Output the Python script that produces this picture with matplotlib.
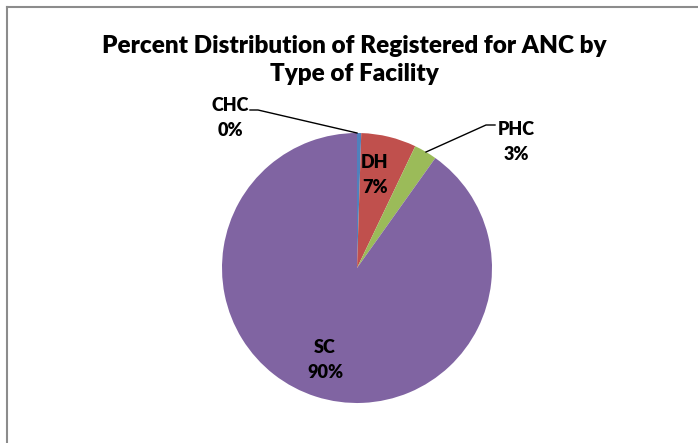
import numpy as np
import matplotlib
matplotlib.use("Agg")
import matplotlib.pyplot as plt
from matplotlib.lines import Line2D

# data
facilities = ["CHC", "DH", "PHC", "SC"]
shares = [0.5, 6.6, 2.75, 90.15]
colors = ["#4F81BD", "#C0504D", "#9BBB59", "#8064A2"]

plt.rcParams['font.family'] = ['Lato', 'DejaVu Sans']

W, H = 698, 443
fig = plt.figure(figsize=(W / 100, H / 100), dpi=100)

# outer chart frame (cut off at right / bottom)
fig.add_artist(Line2D([7.5 / W, 7.5 / W], [0, 1 - 6.5 / H], transform=fig.transFigure,
                      color="#8c8c8c", lw=1.5))
fig.add_artist(Line2D([7.5 / W, 1], [1 - 6.5 / H, 1 - 6.5 / H], transform=fig.transFigure,
                      color="#8c8c8c", lw=1.5))

# pie centre at (357,268) px, radius 135 px
cx, cy, r = 357, 268, 135
ax = fig.add_axes([(cx - r) / W, (H - cy - r) / H, 2 * r / W, 2 * r / H])
wedges, _ = ax.pie(shares, colors=colors, startangle=90, counterclock=False,
                   wedgeprops=dict(linewidth=0))
ax.set_xlim(-1, 1)
ax.set_ylim(-1, 1)
ax.set_aspect("equal")

def px(x, y):
    # pixel position -> pie data coords
    return (x - cx) / r, (cy - y) / r

total = sum(shares)
lab_font = dict(fontsize=13, fontweight="heavy", ha="center", va="center", color="black")

# label positions in px (layout only)
label_pos = {"CHC": (230, 118), "DH": (375, 175), "PHC": (516, 142), "SC": (325, 360)}
for name, val in zip(facilities, shares):
    x, y = px(*label_pos[name])
    ax.text(x, y, f"{name}\n{round(val / total * 100):.0f}%", linespacing=1.55, **lab_font)

# leader lines
def leader(points):
    pts = [px(*p) for p in points]
    ax.plot([p[0] for p in pts], [p[1] for p in pts], color="black", lw=1.0, clip_on=False)

leader([(250, 110), (258, 110), (357, 133)])
leader([(495, 125), (486, 125), (426, 152)])

fig.text(0.508, 1 - 60 / H, "Percent Distribution of Registered for ANC by\nType of Facility",
         ha="center", va="center", fontsize=17.5, fontweight="heavy", linespacing=1.3)

fig.savefig("out.png", dpi=100, facecolor="white")
